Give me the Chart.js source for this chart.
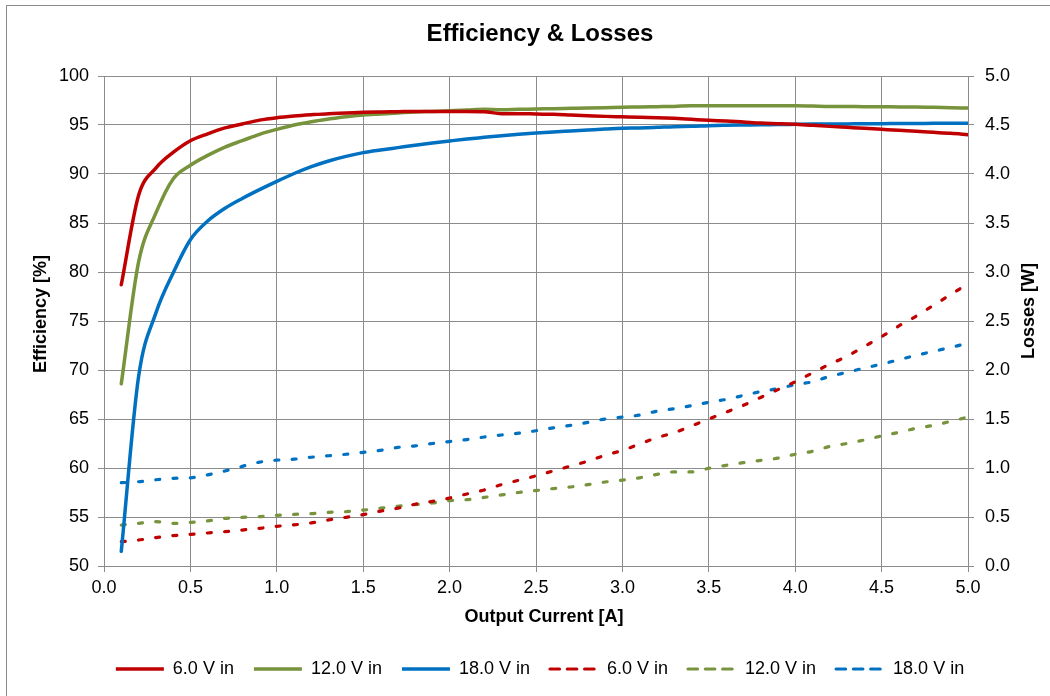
<!DOCTYPE html>
<html>
<head>
<meta charset="utf-8">
<title>Efficiency & Losses</title>
<script src="https://cdn.jsdelivr.net/npm/chart.js@4.4.1/dist/chart.umd.min.js"></script>
<style>
  body { margin: 0; background: #fff; }
  #chart { display: block; }
</style>
</head>
<body>
<canvas id="chart" width="1050" height="696"></canvas>
<script>
// output current [A]
const current = [
  0.1, 0.2, 0.3, 0.4, 0.5, 0.6, 0.7, 0.8, 0.9, 1.0,
  1.1, 1.2, 1.3, 1.4, 1.5, 1.6, 1.7, 1.8, 1.9, 2.0,
  2.1, 2.2, 2.3, 2.4, 2.5, 2.6, 2.7, 2.8, 2.9, 3.0,
  3.1, 3.2, 3.3, 3.4, 3.5, 3.6, 3.7, 3.8, 3.9, 4.0,
  4.1, 4.2, 4.3, 4.4, 4.5, 4.6, 4.7, 4.8, 4.9, 5.0
];

// efficiency [%]
const eff6 = [
  78.7, 87.8, 90.6, 92.2, 93.4, 94.1, 94.7, 95.1, 95.5, 95.75,
  95.92, 96.05, 96.16, 96.22, 96.29, 96.33, 96.36, 96.39, 96.39, 96.39,
  96.39, 96.36, 96.16, 96.16, 96.12, 96.09, 96.02, 95.95, 95.88, 95.84,
  95.8, 95.75, 95.68, 95.58, 95.48, 95.41, 95.31, 95.2, 95.14, 95.07,
  94.97, 94.86, 94.76, 94.66, 94.56, 94.46, 94.35, 94.25, 94.15, 94.01
];
const eff12 = [
  68.6, 81.0, 86.0, 89.5, 90.9, 91.9, 92.75, 93.4, 94.05, 94.55,
  95.0, 95.34, 95.61, 95.85, 96.02, 96.12, 96.22, 96.33, 96.39, 96.46,
  96.53, 96.6, 96.56, 96.6, 96.63, 96.67, 96.7, 96.73, 96.77, 96.82,
  96.84, 96.87, 96.9, 96.97, 96.97, 96.97, 96.97, 96.97, 96.97, 96.97,
  96.94, 96.9, 96.9, 96.87, 96.87, 96.84, 96.84, 96.8, 96.77, 96.73
];
const eff18 = [
  51.5, 69.3, 75.8, 79.9, 83.3, 85.2, 86.5, 87.5, 88.4, 89.25,
  90.05, 90.75, 91.33, 91.8, 92.18, 92.45, 92.69, 92.93, 93.16, 93.37,
  93.57, 93.74, 93.91, 94.05, 94.18, 94.29, 94.39, 94.49, 94.59, 94.67,
  94.7, 94.76, 94.83, 94.86, 94.93, 94.97, 95.0, 95.03, 95.04, 95.07,
  95.1, 95.1, 95.11, 95.14, 95.14, 95.15, 95.15, 95.17, 95.17, 95.17
];

// losses [W]
const loss6 = [
  0.248, 0.265, 0.29, 0.31, 0.323, 0.337, 0.35, 0.367, 0.384, 0.405,
  0.42, 0.44, 0.47, 0.497, 0.524, 0.56, 0.59, 0.63, 0.66, 0.694,
  0.735, 0.776, 0.83, 0.875, 0.92, 0.97, 1.02, 1.07, 1.13, 1.18,
  1.245, 1.31, 1.36, 1.43, 1.5, 1.57, 1.64, 1.72, 1.8, 1.88,
  1.97, 2.06, 2.14, 2.24, 2.34, 2.45, 2.55, 2.66, 2.77, 2.88
];
const loss12 = [
  0.418, 0.435, 0.452, 0.435, 0.445, 0.46, 0.486, 0.497, 0.503, 0.517,
  0.527, 0.534, 0.548, 0.554, 0.57, 0.59, 0.61, 0.626, 0.643, 0.667,
  0.677, 0.7, 0.725, 0.75, 0.77, 0.79, 0.806, 0.83, 0.857, 0.877,
  0.9, 0.935, 0.96, 0.96, 0.997, 1.027, 1.054, 1.078, 1.1, 1.14,
  1.17, 1.22, 1.25, 1.286, 1.327, 1.364, 1.405, 1.435, 1.476, 1.52
];
const loss18 = [
  0.85, 0.86, 0.88, 0.895, 0.9, 0.93, 0.97, 1.017, 1.06, 1.08,
  1.09, 1.11, 1.125, 1.14, 1.16, 1.18, 1.21, 1.225, 1.25, 1.27,
  1.29, 1.316, 1.337, 1.355, 1.38, 1.41, 1.435, 1.465, 1.5, 1.52,
  1.54, 1.58, 1.605, 1.636, 1.67, 1.7, 1.74, 1.78, 1.81, 1.85,
  1.88, 1.935, 1.976, 2.02, 2.06, 2.105, 2.15, 2.19, 2.23, 2.275
];

const seriesNames = ["6.0 V in", "12.0 V in", "18.0 V in"];
const colors = ["#C00000", "#77933C", "#0070C0"];

const FONT = "'Liberation Sans', Arial, sans-serif";
const GRID = "#8c8c8c";

function pts(ys) {
  return current.map((x, i) => ({ x: x, y: ys[i] }));
}

function solid(i, ys) {
  return {
    label: seriesNames[i],
    data: pts(ys),
    yAxisID: "y",
    borderColor: colors[i],
    backgroundColor: colors[i],
    borderWidth: 3.5,
    pointRadius: 0,
    cubicInterpolationMode: "monotone",
    borderCapStyle: "round",
    fill: false
  };
}

function dashed(i, ys) {
  return {
    label: seriesNames[i],
    data: pts(ys),
    yAxisID: "y1",
    borderColor: colors[i],
    backgroundColor: colors[i],
    borderWidth: 3.2,
    borderDash: [4, 13.3],
    borderCapStyle: "round",
    pointRadius: 0,
    cubicInterpolationMode: "monotone",
    fill: false
  };
}

// titles, frame and background
const decorations = {
  id: "decorations",
  beforeDraw(chart) {
    const ctx = chart.ctx;
    ctx.save();
    ctx.fillStyle = "#fff";
    ctx.fillRect(0, 0, chart.width, chart.height);
    ctx.strokeStyle = GRID;
    ctx.lineWidth = 1;
    ctx.strokeRect(6.5, 5.5, 1200, 900);
    ctx.restore();
  },
  afterDraw(chart) {
    const ctx = chart.ctx;
    ctx.save();
    ctx.fillStyle = "#000";
    ctx.textAlign = "center";
    ctx.textBaseline = "middle";
    ctx.font = "bold 24px " + FONT;
    ctx.fillText("Efficiency & Losses", 540, 34);
    ctx.font = "bold 18px " + FONT;
    ctx.fillText("Output Current [A]", 544, 617);

    ctx.save();
    ctx.translate(41, 314);
    ctx.rotate(-Math.PI / 2);
    ctx.fillText("Efficiency [%]", 0, 0);
    ctx.restore();

    ctx.save();
    ctx.translate(1029, 311);
    ctx.rotate(-Math.PI / 2);
    ctx.fillText("Losses [W]", 0, 0);
    ctx.restore();
    ctx.restore();
  }
};

Chart.defaults.font.family = FONT;
Chart.defaults.font.size = 18;
Chart.defaults.color = "#000";

new Chart(document.getElementById("chart"), {
  type: "line",
  data: {
    datasets: [
      solid(0, eff6), solid(1, eff12), solid(2, eff18),
      dashed(0, loss6), dashed(1, loss12), dashed(2, loss18)
    ]
  },
  options: {
    responsive: false,
    animation: false,
    layout: { padding: { left: 30, right: 0, top: 76, bottom: 8 } },
    plugins: {
      title: { display: false },
      tooltip: { enabled: false },
      legend: {
        position: "bottom",
        labels: {
          boxWidth: 48,
          boxHeight: 0,
          padding: 20,
          color: "#000",
          font: { size: 18, family: FONT }
        }
      }
    },
    scales: {
      x: {
        type: "linear",
        min: 0,
        max: 5,
        grid: { color: GRID, tickLength: 6, tickColor: GRID },
        border: { color: GRID },
        ticks: {
          stepSize: 0.5,
          padding: 5,
          maxRotation: 0,
          callback: v => v.toFixed(1)
        },
        afterFit: s => { s.height = 74; }
      },
      y: {
        position: "left",
        min: 50,
        max: 100,
        grid: { color: GRID, tickLength: 6, tickColor: GRID },
        border: { color: GRID },
        ticks: { stepSize: 5, padding: 9 },
        afterFit: s => { s.width = 74; }
      },
      y1: {
        position: "right",
        min: 0,
        max: 5,
        grid: { drawOnChartArea: false, tickLength: 6, tickColor: GRID },
        border: { color: GRID },
        ticks: { stepSize: 0.5, padding: 11, callback: v => v.toFixed(1) },
        afterFit: s => { s.width = 82; }
      }
    }
  },
  plugins: [decorations]
});
</script>
</body>
</html>
